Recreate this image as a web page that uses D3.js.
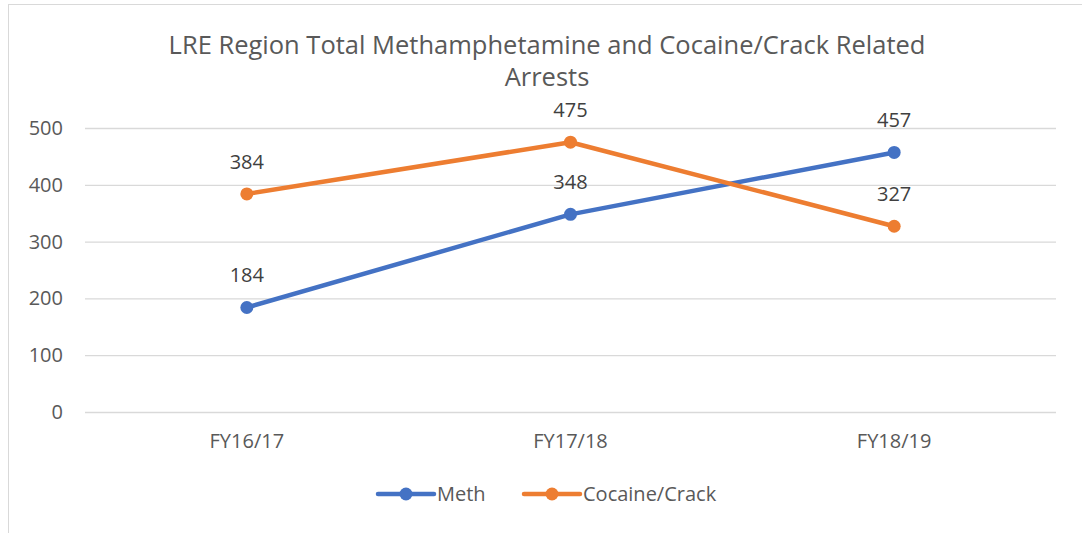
<!DOCTYPE html>
<html>
<head>
<meta charset="utf-8">
<script src="https://cdn.jsdelivr.net/npm/d3@7"></script>
<style>
  body { margin: 0; background: #fff; }
  svg { display: block; font-family: "Open Sans", "Noto Sans", sans-serif; }
</style>
</head>
<body>
<svg id="chart" width="1082" height="533"></svg>
<script>
const categories = ["FY16/17", "FY17/18", "FY18/19"];
const methValues = [184, 348, 457];
const cocaineValues = [384, 475, 327];
const yTicks = [0, 100, 200, 300, 400, 500];
const seriesNames = ["Meth", "Cocaine/Crack"];
const seriesColors = ["#4472C4", "#ED7D31"];
const titleLines = ["LRE Region Total Methamphetamine and Cocaine/Crack Related", "Arrests"];

const series = [
  { name: seriesNames[0], color: seriesColors[0], values: methValues },
  { name: seriesNames[1], color: seriesColors[1], values: cocaineValues }
];

const FS = 20;

const svg = d3.select("#chart");

// outer chart frame
svg.append("rect")
  .attr("x", 8.5).attr("y", 4.5)
  .attr("width", 1090).attr("height", 540)
  .attr("fill", "none").attr("stroke", "#d9d9d9").attr("stroke-width", 1);

const plot = { left: 85, right: 1056, top: 128, bottom: 412 };

const x = d3.scaleBand().domain(categories).range([plot.left, plot.right]);
const y = d3.scaleLinear().domain([0, 500]).range([plot.bottom, plot.top]);

// title
svg.append("g").selectAll("text")
  .data(titleLines)
  .join("text")
  .attr("x", 547)
  .attr("y", (d, i) => 54 + i * 32)
  .attr("text-anchor", "middle")
  .attr("font-size", 25.5)
  .attr("fill", "#595959")
  .text(d => d);

// gridlines + y labels
const yAxis = d3.axisLeft(y).tickValues(yTicks).tickSize(-(plot.right - plot.left)).tickPadding(22);
const gy = svg.append("g").attr("transform", `translate(${plot.left},0)`).call(yAxis);
gy.select(".domain").remove();
gy.selectAll(".tick line").attr("stroke", "#d9d9d9").attr("stroke-width", 1.3);
gy.selectAll(".tick text").attr("font-size", FS).attr("fill", "#595959")
  .attr("font-family", "'Open Sans', sans-serif");

// x labels
const xAxis = d3.axisBottom(x).tickSize(0).tickPadding(22);
const gx = svg.append("g").attr("transform", `translate(0,${plot.bottom})`).call(xAxis);
gx.select(".domain").remove();
gx.selectAll(".tick text").attr("font-size", FS).attr("fill", "#595959")
  .attr("font-family", "'Open Sans', sans-serif");

const cx = c => x(c) + x.bandwidth() / 2;
const line = d3.line().x((d, i) => cx(categories[i])).y(d => y(d));

const gs = svg.append("g").selectAll("g").data(series).join("g");
gs.append("path")
  .attr("d", d => line(d.values))
  .attr("fill", "none")
  .attr("stroke", d => d.color)
  .attr("stroke-width", 4.5)
  .attr("stroke-linecap", "round")
  .attr("stroke-linejoin", "round");
gs.selectAll("circle")
  .data(d => d.values.map((v, i) => ({ v, c: categories[i], color: d.color })))
  .join("circle")
  .attr("cx", d => cx(d.c))
  .attr("cy", d => y(d.v))
  .attr("r", 6.5)
  .attr("fill", d => d.color);
gs.selectAll("text.lbl")
  .data(d => d.values.map((v, i) => ({ v, c: categories[i] })))
  .join("text")
  .attr("class", "lbl")
  .attr("x", d => cx(d.c))
  .attr("y", d => y(d.v) - 25)
  .attr("text-anchor", "middle")
  .attr("font-size", FS)
  .attr("fill", "#404040")
  .text(d => d.v);

// legend
const legendX = [378, 524];
const lg = svg.append("g").selectAll("g").data(series).join("g")
  .attr("transform", (d, i) => `translate(${legendX[i]},494)`);
lg.append("line")
  .attr("x1", 0).attr("x2", 56).attr("y1", 0).attr("y2", 0)
  .attr("stroke", d => d.color).attr("stroke-width", 4.5).attr("stroke-linecap", "round");
lg.append("circle").attr("cx", 28).attr("cy", 0).attr("r", 6.5).attr("fill", d => d.color);
lg.append("text")
  .attr("x", 59).attr("y", 7)
  .attr("font-size", FS).attr("fill", "#595959")
  .text(d => d.name);
</script>
</body>
</html>
